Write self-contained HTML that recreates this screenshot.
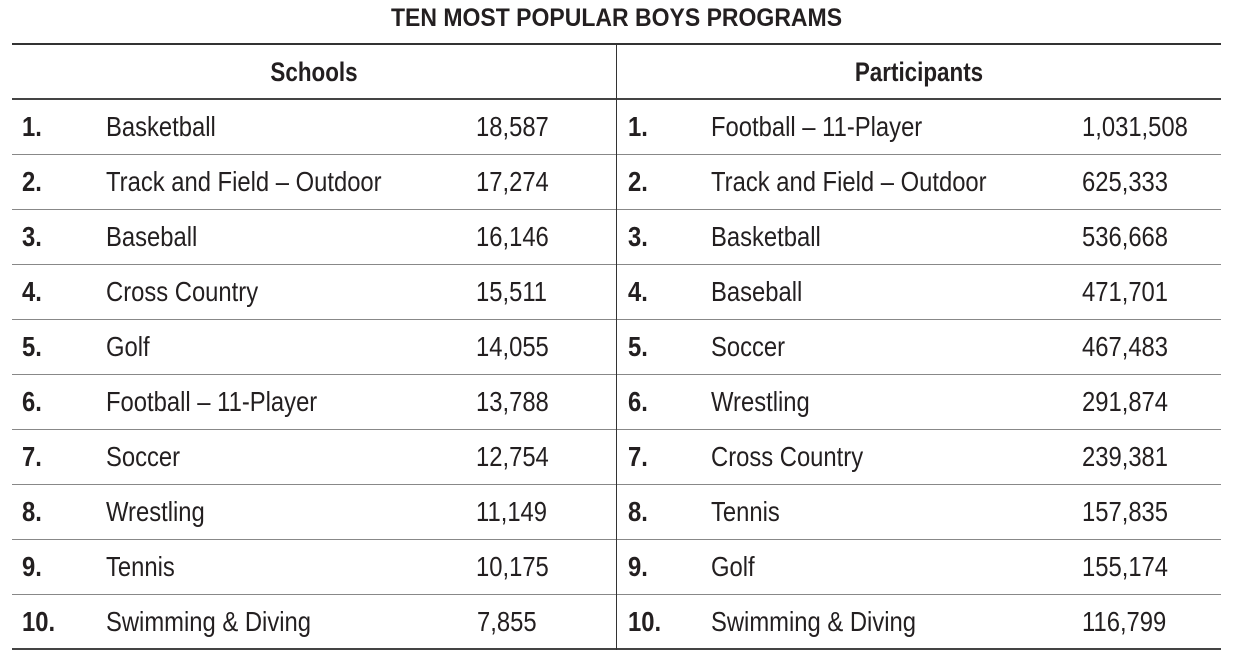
<!DOCTYPE html>
<html><head><meta charset="utf-8"><style>
body{margin:0;width:1233px;height:661px;background:#fff;position:relative;overflow:hidden;font-family:"Liberation Sans Narrow","Liberation Sans",sans-serif;color:#231f20}
.h{position:absolute;left:12px;width:1209px;background:#555}
.t{position:absolute;font-size:28px;line-height:30px;white-space:nowrap;transform:scaleX(0.85);transform-origin:0 50%}
.b{font-weight:bold}
.c{transform-origin:50% 50%}
</style></head><body>
<div class="t b c" style="left:0;width:1233px;text-align:center;top:3px;font-size:25px;transform:scaleX(0.92)">TEN MOST POPULAR BOYS PROGRAMS</div>
<div class="h" style="top:43px;height:2px;background:#333"></div>
<div class="h" style="top:98px;height:2px;background:#444"></div>
<div class="h" style="top:154px;height:1px;background:#888"></div>
<div class="h" style="top:209px;height:1px;background:#888"></div>
<div class="h" style="top:264px;height:1px;background:#888"></div>
<div class="h" style="top:319px;height:1px;background:#888"></div>
<div class="h" style="top:374px;height:1px;background:#888"></div>
<div class="h" style="top:429px;height:1px;background:#888"></div>
<div class="h" style="top:484px;height:1px;background:#888"></div>
<div class="h" style="top:539px;height:1px;background:#888"></div>
<div class="h" style="top:594px;height:1px;background:#888"></div>
<div class="h" style="top:648px;height:2px;background:#444"></div>
<div style="position:absolute;left:616px;top:44px;width:1px;height:606px;background:#333"></div>
<div class="t b c" style="left:12px;width:604px;text-align:center;top:57px;font-size:27px;transform:scaleX(0.83)">Schools</div>
<div class="t b c" style="left:617px;width:604px;text-align:center;top:57px;font-size:27px;transform:scaleX(0.83)">Participants</div>

<div class="t b" style="left:22px;top:112px">1.</div><div class="t" style="left:106px;top:112px">Basketball</div><div class="t" style="left:476px;top:112px">18,587</div>
<div class="t b" style="left:22px;top:167px">2.</div><div class="t" style="left:106px;top:167px">Track and Field – Outdoor</div><div class="t" style="left:476px;top:167px">17,274</div>
<div class="t b" style="left:22px;top:222px">3.</div><div class="t" style="left:106px;top:222px">Baseball</div><div class="t" style="left:476px;top:222px">16,146</div>
<div class="t b" style="left:22px;top:277px">4.</div><div class="t" style="left:106px;top:277px">Cross Country</div><div class="t" style="left:476px;top:277px">15,511</div>
<div class="t b" style="left:22px;top:332px">5.</div><div class="t" style="left:106px;top:332px">Golf</div><div class="t" style="left:476px;top:332px">14,055</div>
<div class="t b" style="left:22px;top:387px">6.</div><div class="t" style="left:106px;top:387px">Football – 11-Player</div><div class="t" style="left:476px;top:387px">13,788</div>
<div class="t b" style="left:22px;top:442px">7.</div><div class="t" style="left:106px;top:442px">Soccer</div><div class="t" style="left:476px;top:442px">12,754</div>
<div class="t b" style="left:22px;top:497px">8.</div><div class="t" style="left:106px;top:497px">Wrestling</div><div class="t" style="left:476px;top:497px">11,149</div>
<div class="t b" style="left:22px;top:552px">9.</div><div class="t" style="left:106px;top:552px">Tennis</div><div class="t" style="left:476px;top:552px">10,175</div>
<div class="t b" style="left:22px;top:607px">10.</div><div class="t" style="left:106px;top:607px">Swimming &amp; Diving</div><div class="t" style="left:477px;top:607px">7,855</div>

<div class="t b" style="left:628px;top:112px">1.</div><div class="t" style="left:711px;top:112px">Football – 11-Player</div><div class="t" style="left:1082px;top:112px">1,031,508</div>
<div class="t b" style="left:628px;top:167px">2.</div><div class="t" style="left:711px;top:167px">Track and Field – Outdoor</div><div class="t" style="left:1082px;top:167px">625,333</div>
<div class="t b" style="left:628px;top:222px">3.</div><div class="t" style="left:711px;top:222px">Basketball</div><div class="t" style="left:1082px;top:222px">536,668</div>
<div class="t b" style="left:628px;top:277px">4.</div><div class="t" style="left:711px;top:277px">Baseball</div><div class="t" style="left:1082px;top:277px">471,701</div>
<div class="t b" style="left:628px;top:332px">5.</div><div class="t" style="left:711px;top:332px">Soccer</div><div class="t" style="left:1082px;top:332px">467,483</div>
<div class="t b" style="left:628px;top:387px">6.</div><div class="t" style="left:711px;top:387px">Wrestling</div><div class="t" style="left:1082px;top:387px">291,874</div>
<div class="t b" style="left:628px;top:442px">7.</div><div class="t" style="left:711px;top:442px">Cross Country</div><div class="t" style="left:1082px;top:442px">239,381</div>
<div class="t b" style="left:628px;top:497px">8.</div><div class="t" style="left:711px;top:497px">Tennis</div><div class="t" style="left:1082px;top:497px">157,835</div>
<div class="t b" style="left:628px;top:552px">9.</div><div class="t" style="left:711px;top:552px">Golf</div><div class="t" style="left:1082px;top:552px">155,174</div>
<div class="t b" style="left:628px;top:607px">10.</div><div class="t" style="left:711px;top:607px">Swimming &amp; Diving</div><div class="t" style="left:1082px;top:607px">116,799</div>
</body></html>
